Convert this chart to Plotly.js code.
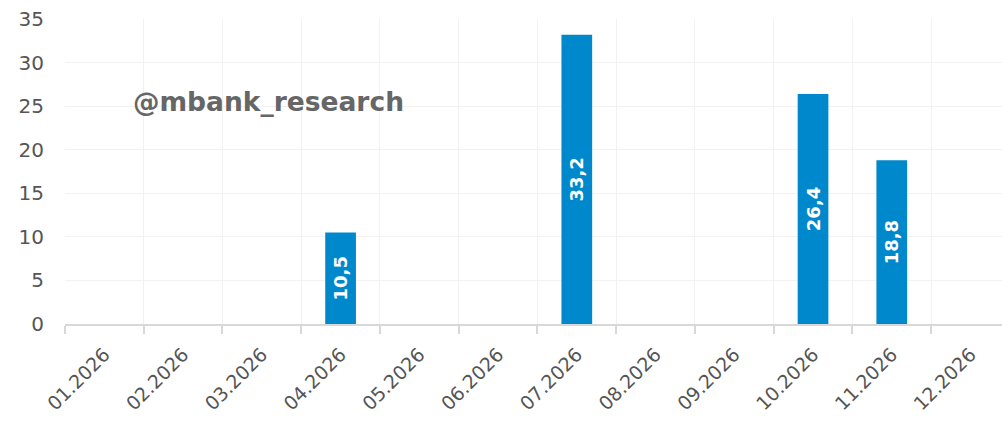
<!DOCTYPE html>
<html>
<head>
<meta charset="utf-8">
<script src="https://cdn.plot.ly/plotly-3.0.1.min.js"></script>
<style>html,body{margin:0;padding:0;background:#fff;}#chart{width:1002px;height:422px;}</style>
</head>
<body>
<div id="chart"></div>
<script>
const months = ['01.2026','02.2026','03.2026','04.2026','05.2026','06.2026','07.2026','08.2026','09.2026','10.2026','11.2026','12.2026'];
const values = [null, null, null, 10.5, null, null, 33.2, null, null, 26.4, 18.8, null];
const watermark = '@mbank_research';

const FONT = 'DejaVu Sans, sans-serif';

const trace = {
  type: 'bar',
  x: months,
  y: values,
  width: 0.39,
  marker: {color: '#0088cc'},
  texttemplate: '%{y:.1f}',
  textposition: 'inside',
  insidetextanchor: 'middle',
  textangle: -90,
  constraintext: 'none',
  textfont: {family: FONT, size: 18, color: '#ffffff', weight: 'bold'},
  hoverinfo: 'x+y'
};

const layout = {
  width: 1002, height: 422,
  margin: {l: 65, r: 0, t: 19, b: 98},
  paper_bgcolor: '#ffffff', plot_bgcolor: '#ffffff',
  separators: ',.',
  showlegend: false,
  font: {family: FONT, color: '#555555'},
  xaxis: {
    type: 'category',
    range: [-0.5, 11.4],
    tickson: 'boundaries',
    ticks: 'outside', ticklen: 8, tickwidth: 2, tickcolor: '#d8d8d8',
    showgrid: true, gridcolor: '#f2f2f2', gridwidth: 1,
    showline: true, linecolor: '#d8d8d8', linewidth: 2,
    tickangle: -45,
    ticklabelstandoff: 10,
    tickfont: {family: FONT, size: 19, color: '#555555'},
    fixedrange: true
  },
  yaxis: {
    range: [0, 35],
    dtick: 5,
    showgrid: true, gridcolor: '#f2f2f2', gridwidth: 1,
    zeroline: false, showline: false,
    ticks: '',
    ticklabelstandoff: 20,
    tickfont: {family: FONT, size: 20, color: '#555555'},
    fixedrange: true
  },
  annotations: [{
    text: watermark,
    xref: 'paper', yref: 'paper',
    x: 0.0704, y: 0.728,
    xanchor: 'left', yanchor: 'middle',
    showarrow: false,
    font: {family: FONT, size: 26.5, color: '#666666', weight: 'bold'}
  }]
};

Plotly.newPlot('chart', [trace], layout, {displayModeBar: false, staticPlot: true});
</script>
</body>
</html>
